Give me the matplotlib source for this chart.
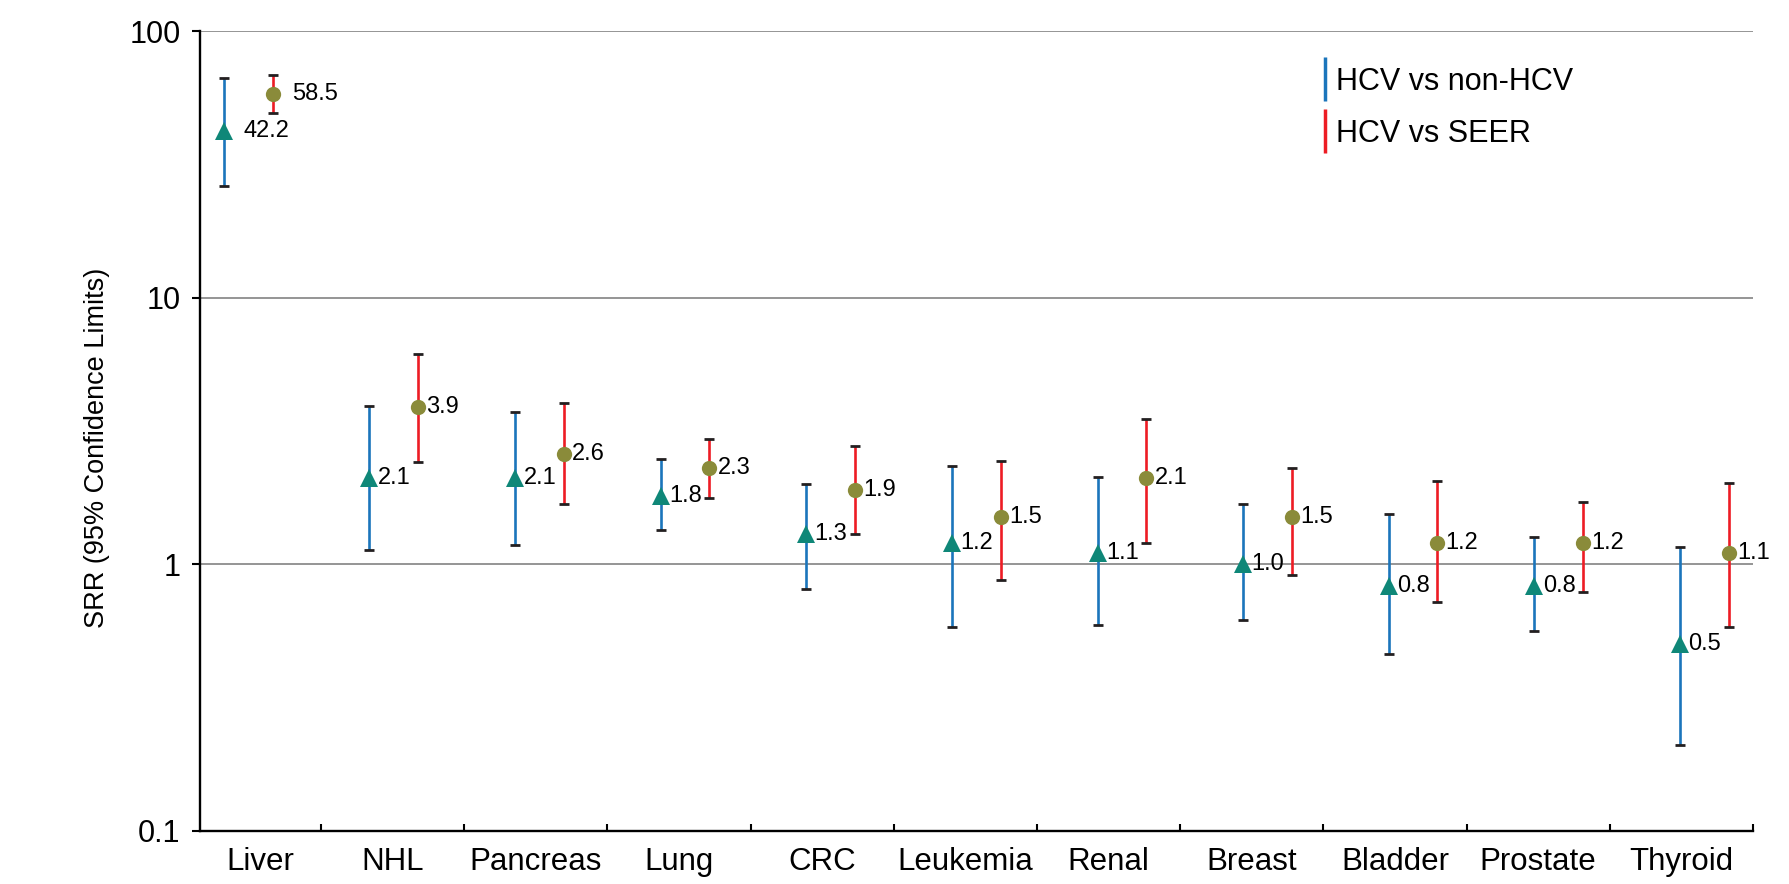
import numpy as np
import matplotlib.pyplot as plt
from matplotlib.lines import Line2D
from matplotlib.ticker import FixedLocator, NullLocator, FixedFormatter

plt.rcParams['font.family'] = ['Liberation Sans', 'DejaVu Sans']

cancers = ['Liver', 'NHL', 'Pancreas', 'Lung', 'CRC', 'Leukemia', 'Renal',
           'Breast', 'Bladder', 'Prostate', 'Thyroid']

# HCV vs non-HCV
nonhcv = [42.2, 2.1, 2.1, 1.8, 1.3, 1.2, 1.1, 1.0, 0.83, 0.83, 0.5]
nonhcv_lo = [26.4, 1.13, 1.18, 1.35, 0.81, 0.58, 0.59, 0.62, 0.46, 0.56, 0.21]
nonhcv_hi = [66.7, 3.93, 3.73, 2.49, 2.0, 2.33, 2.12, 1.69, 1.54, 1.27, 1.16]

# HCV vs SEER
seer = [58.5, 3.9, 2.6, 2.3, 1.9, 1.5, 2.1, 1.5, 1.2, 1.2, 1.1]
seer_lo = [49.3, 2.43, 1.69, 1.78, 1.30, 0.87, 1.20, 0.915, 0.72, 0.79, 0.58]
seer_hi = [68.7, 6.16, 4.03, 2.95, 2.78, 2.44, 3.51, 2.30, 2.05, 1.71, 2.02]

blue, red = '#1b75bb', '#ed1c24'
teal, olive = '#0f8778', '#8a8b3a'
capc = '#231f20'

fig = plt.figure(figsize=(17.89, 8.84), dpi=100)
ax = fig.add_axes([0.1118, 0.0603, 0.8681, 0.9041])

x = np.arange(len(cancers))
off = 0.167


def draw(xs, v, lo, hi, ecol, mcol, marker, ms):
    v, lo, hi = map(np.asarray, (v, lo, hi))
    eb = ax.errorbar(xs, v, yerr=[v - lo, hi - v], fmt='none', ecolor=ecol,
                     elinewidth=1.9, capsize=3.6, capthick=2.0, zorder=2)
    for cl in eb[1]:
        cl.set_color(capc)
        cl.set_markeredgecolor(capc)
    ax.plot(xs, v, linestyle='none', marker=marker, ms=ms, color=mcol,
            markeredgewidth=0, zorder=3)
    for i, (xi, vi) in enumerate(zip(xs, v)):
        dx = 14 if i == 0 else 6
        ax.annotate(f'{vi:.1f}', (xi, vi), xytext=(dx, 0), textcoords='offset points',
                    va='center', ha='left', fontsize=17, zorder=4)


draw(x - off, nonhcv, nonhcv_lo, nonhcv_hi, blue, teal, '^', 12.5)
draw(x + off, seer, seer_lo, seer_hi, red, olive, 'o', 11)

ax.set_yscale('log')
ax.set_ylim(0.1, 100)
ax.yaxis.set_major_locator(FixedLocator([0.1, 1, 10, 100]))
ax.yaxis.set_major_formatter(FixedFormatter(['0.1', '1', '10', '100']))
ax.yaxis.set_minor_locator(NullLocator())
ax.yaxis.grid(True, color='#8c8c8c', linewidth=1.3)
ax.set_axisbelow(True)

# category boundaries (tick marks) and label positions
bounds = 0.5 + 0.9835 * np.arange(len(cancers))
left = -0.331
ax.set_xlim(left, bounds[-1])
edges = np.concatenate([[left], bounds])
ax.xaxis.set_major_locator(FixedLocator(bounds.tolist()))
ax.xaxis.set_major_formatter(FixedFormatter([]))
ax.xaxis.set_minor_locator(FixedLocator((edges[:-1] + edges[1:]) / 2))
ax.xaxis.set_minor_formatter(FixedFormatter(cancers))
ax.tick_params(axis='x', which='major', direction='in', length=5, width=1.5, color='k')
ax.tick_params(axis='x', which='minor', length=0, pad=12, labelsize=22.5)
ax.tick_params(axis='y', which='major', direction='out', length=6, width=1.5,
               pad=8, labelsize=22)

for s in ['top', 'right']:
    ax.spines[s].set_visible(False)
for s in ['left', 'bottom']:
    ax.spines[s].set_linewidth(1.7)
    ax.spines[s].set_zorder(5)

ax.set_ylabel('SRR (95% Confidence Limits)', fontsize=19.5)
ax.yaxis.set_label_coords(-0.058, 0.479)

handles = [Line2D([], [], color=blue, marker='|', linestyle='none', ms=31, mew=2.5),
           Line2D([], [], color=red, marker='|', linestyle='none', ms=31, mew=2.5)]
fig.legend(handles, ['HCV vs non-HCV', 'HCV vs SEER'], loc='upper left',
           bbox_to_anchor=(0.7373, 0.924), frameon=False, fontsize=22,
           handlelength=0.4, handletextpad=0.15, borderpad=0, borderaxespad=0,
           labelspacing=0.7)

fig.savefig('out.png', dpi=100)
